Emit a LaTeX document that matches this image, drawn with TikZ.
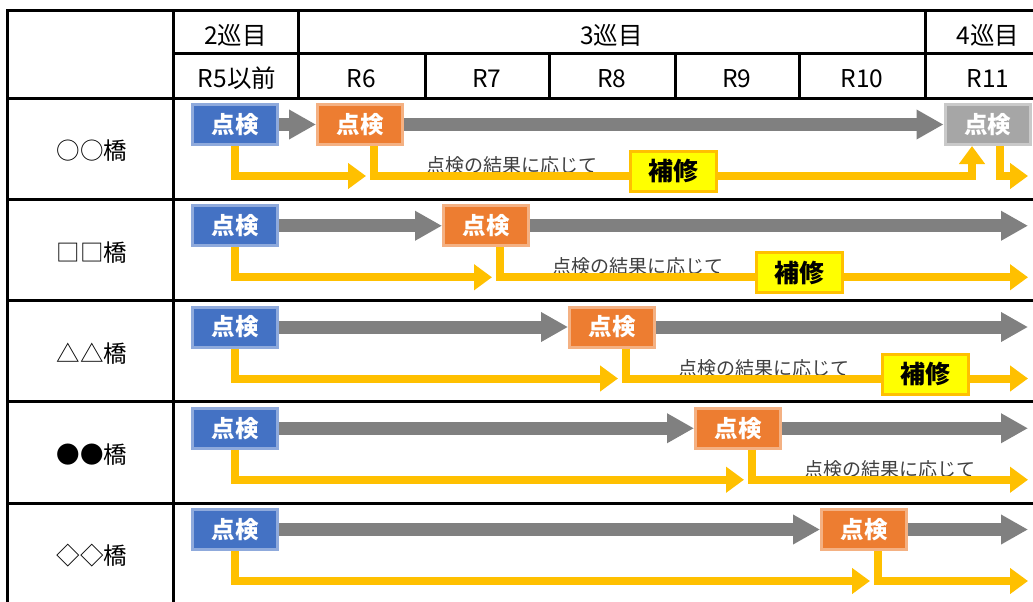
\documentclass[tikz,border=0pt]{standalone}
\usepackage{fontspec}
\setmainfont{Noto Sans CJK JP}
\usetikzlibrary{arrows.meta}
\definecolor{kblue}{HTML}{4472C4}
\definecolor{kblueb}{HTML}{8FAADC}
\definecolor{korange}{HTML}{ED7D31}
\definecolor{korangeb}{HTML}{F4B183}
\definecolor{kgray}{HTML}{808080}
\definecolor{kgrayf}{HTML}{A6A6A6}
\definecolor{kgrayb}{HTML}{C9C9C9}
\definecolor{kyel}{HTML}{FFC000}
\definecolor{kyelf}{HTML}{FFFF00}
\definecolor{knote}{HTML}{404040}
\begin{document}
\begin{tikzpicture}[x=1pt,y=-1pt,
  tline/.style={line width=3pt,line cap=rect},
  kbox/.style={minimum width=85pt,minimum height=40pt,inner sep=0pt,line width=3pt,text=white,font=\fontsize{23.5}{23.5}\selectfont\bfseries},
  bluebox/.style={kbox,fill=kblue,draw=kblueb},
  orangebox/.style={kbox,fill=korange,draw=korangeb},
  graybox/.style={kbox,fill=kgrayf,draw=kgrayb},
  repbox/.style={kbox,minimum width=86pt,minimum height=40pt,fill=kyelf,draw=kyel,text=black,font=\fontsize{25}{25}\selectfont\bfseries},
  garrow/.style={draw=kgray,line width=13pt,-{Triangle[length=27pt,width=28pt]}},
  yarrow/.style={draw=kyel,line width=8pt,line join=miter,-{Triangle[length=18pt,width=25pt]}},
  hdr/.style={font=\fontsize{24.5}{24.5}\selectfont,inner sep=0pt},
  lbl/.style={font=\fontsize{23.5}{23.5}\selectfont,inner sep=0pt},
  note/.style={font=\fontsize{19}{19}\selectfont,text=knote,inner sep=0pt,anchor=base west}]
\useasboundingbox (0,0) rectangle (1033,602);
\clip (0,0) rectangle (1033,602);
\fill[white] (0,0) rectangle (1033,602);

% table grid
\draw[tline] (7,11) rectangle (1051,606);
\draw[tline] (173,11) -- (173,606);
\draw[tline] (298,11) -- (298,98);
\draw[tline] (925,11) -- (925,98);
\draw[tline] (173,54) -- (1051,54);
\foreach \x in {425,549,675,799} \draw[tline] (\x,54) -- (\x,98);
\foreach \y in {98,199.25,300.5,401.75,503} \draw[tline] (7,\y) -- (1051,\y);

% headers
\node[hdr] (c2) at (235.5,35) {2巡目};
\node[hdr] (c3) at (611.5,35) {3巡目};
\node[hdr] (c4) at (988,35) {4巡目};
\node[hdr] (y5) at (237,78.5) {R5以前};
\node[hdr] (y6) at (361.5,78.5) {R6};
\node[hdr] (y7) at (487,78.5) {R7};
\node[hdr] (y8) at (612,78.5) {R8};
\node[hdr] (y9) at (737,78.5) {R9};
\node[hdr] (y10) at (862,78.5) {R10};
\node[hdr] (y11) at (988,78.5) {R11};

% rows: labels and boxes
\foreach \i/\lab in {0/○○橋,1/□□橋,2/△△橋,3/●●橋,4/◇◇橋} {
  \pgfmathsetmacro\r{98+101.25*\i}
  \pgfmathsetmacro\O{316+126*\i}
  \node[lbl] (l\i) at (92,\r+53) {\lab};
  \node[bluebox] (b\i) at (235,\r+26.5) {点検};
  \node[orangebox] (o\i) at (\O+44,\r+26.5) {点検};
  \coordinate (yt\i) at (\O+50,\r+78);
  \coordinate (ye\i) at (1028,\r+78);
  \coordinate (ge\i) at (1028,\r+26.5);
}
\node[graybox] (g0) at (987.5,124.5) {点検};

% notes
\foreach \i in {0,1,2,3} {
  \pgfmathsetmacro\r{98+101.25*\i}
  \pgfmathsetmacro\O{316+126*\i}
  \node[note] (n\i) at (\O+110,\r+74.5) {点検の結果に応じて};
}

% gray arrows
\foreach \i in {0,1,2,3,4} \draw[garrow] (b\i) -- (o\i);
\draw[garrow] (o0) -- (g0);
\foreach \i in {1,2,3,4} \draw[garrow] (o\i) -- (ge\i);

% yellow arrows
\foreach \i in {0,1,2,3,4} \draw[yarrow] (b\i.south) |- (yt\i);
\foreach \i in {1,2,3,4} \draw[yarrow] ([xshift=14pt]o\i.south) |- (ye\i);
\coordinate (yk0) at (972,176);
\draw[yarrow] ([xshift=14pt]o0.south) |- (yk0) -- ([xshift=-15.5pt]g0.south);
\draw[yarrow] ([xshift=12.5pt]g0.south) |- (ye0);

% repair boxes
\foreach \i in {0,1,2} {
  \pgfmathsetmacro\r{98+101.25*\i}
  \pgfmathsetmacro\O{316+126*\i}
  \node[repbox] (m\i) at (\O+357.5,\r+73.5) {補修};
}
\end{tikzpicture}
\end{document}
